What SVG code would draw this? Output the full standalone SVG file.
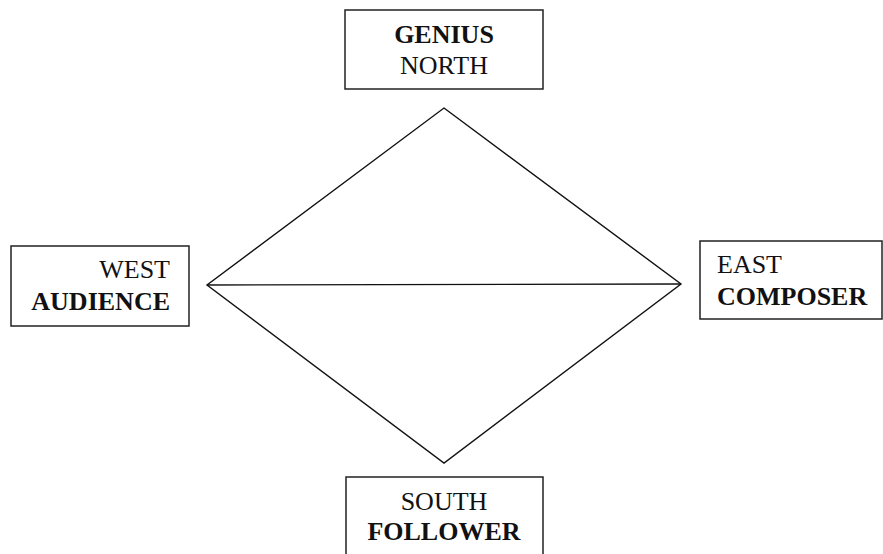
<svg xmlns="http://www.w3.org/2000/svg" width="883" height="554" viewBox="0 0 883 554">
<style>
.box{fill:#fff;stroke:#222;stroke-width:1.5}
.t{font-family:'Liberation Serif','DejaVu Serif',serif;font-size:26px;fill:#111}
.b{font-weight:bold}
.ln{fill:none;stroke:#111;stroke-width:1.4;stroke-linejoin:miter}
</style>
<rect width="883" height="554" fill="#fff"/>
<g id="connectors">
<polygon class="ln" points="444,108 681,284 444,463 207,285"/>
<line class="ln" x1="207" y1="285" x2="681" y2="284"/>
</g>
<g id="north">
<rect class="box" x="345" y="10" width="198" height="79"/>
<text class="t b" x="444" y="43" text-anchor="middle">GENIUS</text>
<text class="t" x="444" y="74" text-anchor="middle">NORTH</text>
</g>
<g id="west">
<rect class="box" x="11" y="246" width="178" height="80"/>
<text class="t" x="170" y="278" text-anchor="end">WEST</text>
<text class="t b" x="170" y="310" text-anchor="end">AUDIENCE</text>
</g>
<g id="east">
<rect class="box" x="700" y="241" width="182" height="78"/>
<text class="t" x="717" y="273">EAST</text>
<text class="t b" x="717" y="305">COMPOSER</text>
</g>
<g id="south">
<rect class="box" x="346" y="477" width="197" height="90"/>
<text class="t" x="444" y="510" text-anchor="middle">SOUTH</text>
<text class="t b" x="444" y="540" text-anchor="middle">FOLLOWER</text>
</g>
</svg>
